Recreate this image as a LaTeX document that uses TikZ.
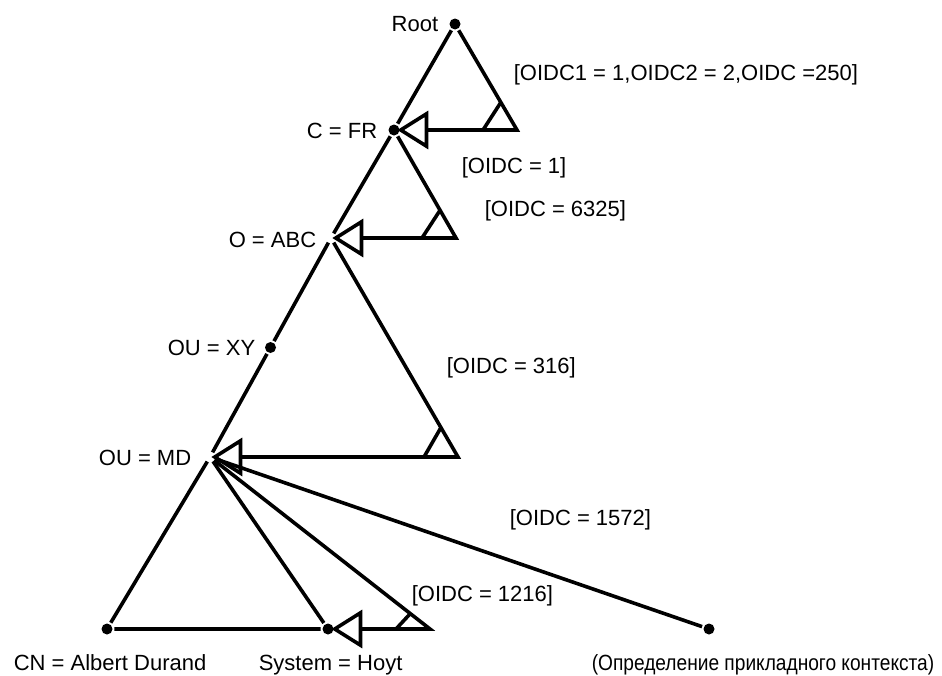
\documentclass[tikz,border=0pt]{standalone}
\usepackage{fontspec}
\setmainfont{Liberation Sans}
\usetikzlibrary{arrows.meta,calc}

\begin{document}
\begin{tikzpicture}[x=1pt, y=-1pt, line width=3.6pt,
    dot/.style={circle, fill=black, inner sep=0pt, minimum size=11pt},
    hole/.style={circle, fill=white, inner sep=0pt, minimum size=7pt},
    lbl/.style={inner sep=0pt, text height=16pt, text depth=0pt, font=\fontsize{22}{26}\selectfont},
    link/.style={-{Triangle[open, length=31pt, width=38pt]}, shorten >=-4pt}]
    \useasboundingbox (0,0) rectangle (942,675);

    % Vertices
    \node[dot]  (root) at (455,24) {};
    \node[dot]  (fr)   at (394,130) {};
    \node[hole] (abc)  at (331,238) {};
    \node[hole] (md)   at (210,457) {};
    \node[dot]  (xy)   at ($(abc)!0.5!(md)$) {};
    \node[dot]  (cn)   at (107,629) {};
    \node[dot]  (hoyt) at (328,629) {};
    \node[dot]  (ctx)  at (709,629) {};
    \coordinate (c1) at (517,130);
    \coordinate (c2) at (456,238);
    \coordinate (c3) at (458,457);
    \coordinate (c4) at (430,629);

    % Triangles
    \draw (root) -- (fr);
    \draw[link] (root) -- (c1) -- (fr);
    \draw (fr) -- (abc);
    \draw[link] (fr) -- (c2) -- (abc);
    \draw (abc) -- (xy) -- (md);
    \draw[link] (abc) -- (c3) -- (md);

    % Leaves
    \draw (md) -- (cn) -- (hoyt);
    \draw (md) -- (hoyt);
    \draw[link] (md) -- (c4) -- (hoyt);
    \draw (md) -- (ctx);

    % Angle marks
    \foreach \c/\t/\d in {c1/root/32, c2/fr/32, c3/abc/34, c4/md/25}
    \draw ($(\c)+(-34,0)$) -- ($(\c)!\d pt!(\t)$);

    % Names
    \node[lbl, anchor=east] (lroot) at (440,23)  {Root};
    \node[lbl, anchor=east] (lfr)   at (379,130) {C = FR};
    \node[lbl, anchor=east] (labc)  at (318,239) {O = ABC};
    \node[lbl, anchor=east] (lxy)   at (257,347) {OU = XY};
    \node[lbl, anchor=east] (lmd)   at (193,457) {OU = MD};
    \node[lbl, anchor=west] (lcn)   at (12,662)  {CN = Albert Durand};
    \node[lbl, anchor=west] (lhoyt) at (257,662) {System = Hoyt};
    \node[lbl, anchor=west] (lctx)  at (590,662) {\scalebox{0.87}[1]{(Определение прикладного контекста)}};

    % Identifiers
    \node[lbl, anchor=west] (o1) at (512,72)  {[OIDC1 = 1,OIDC2 = 2,OIDC =250]};
    \node[lbl, anchor=west] (o2) at (460,165) {[OIDC = 1]};
    \node[lbl, anchor=west] (o3) at (483,208) {[OIDC = 6325]};
    \node[lbl, anchor=west] (o4) at (445,365) {[OIDC = 316]};
    \node[lbl, anchor=west] (o5) at (508,517) {[OIDC = 1572]};
    \node[lbl, anchor=west] (o6) at (410,593) {[OIDC = 1216]};
\end{tikzpicture}
\end{document}
